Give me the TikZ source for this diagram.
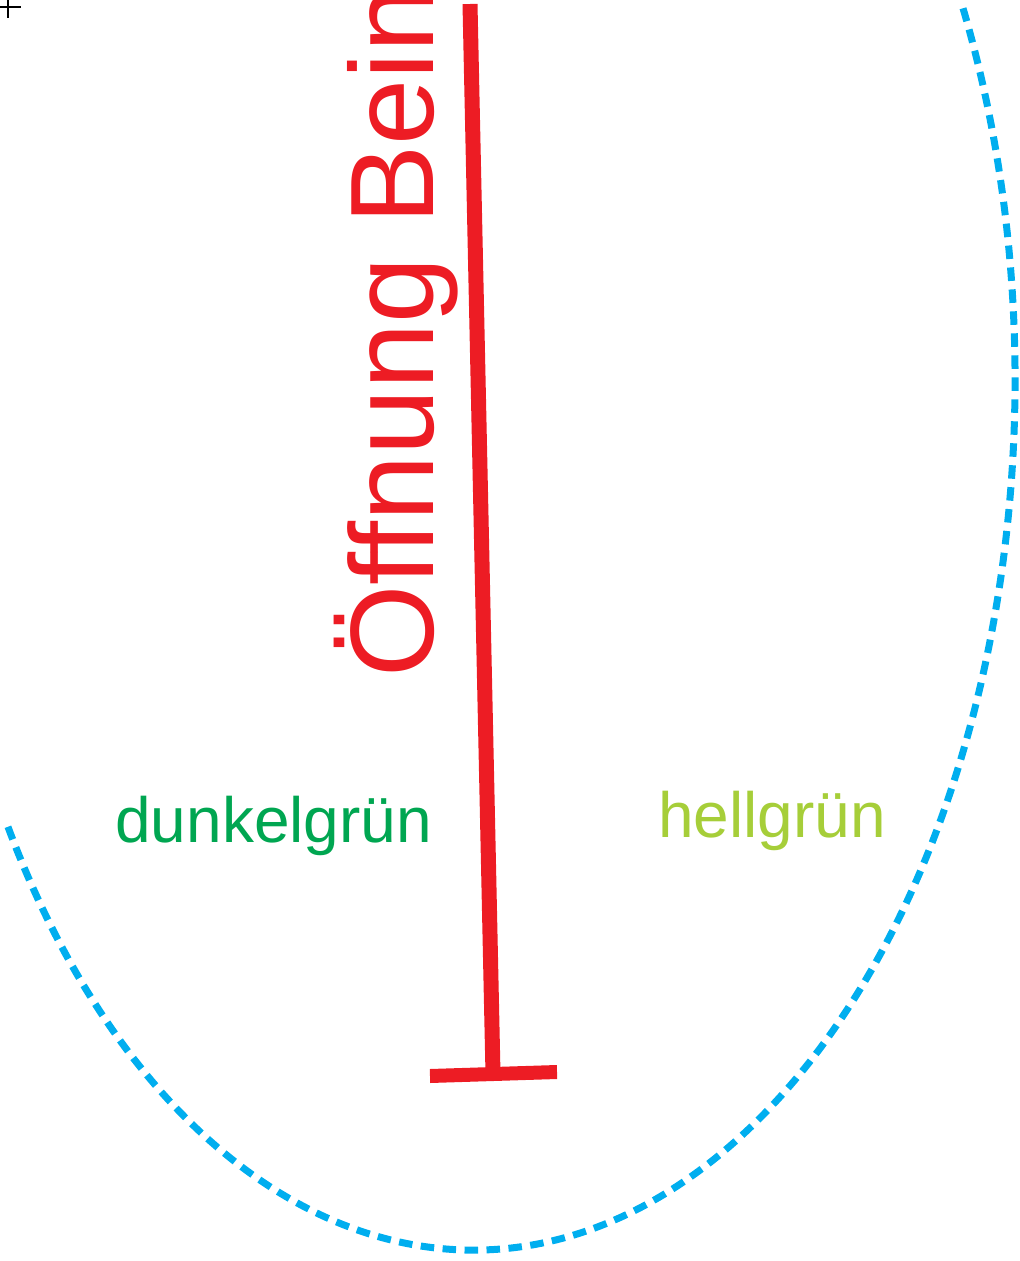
\documentclass[tikz,border=0pt]{standalone}
\usepackage{fontspec}
\setmainfont{Liberation Sans}
\usepackage{xcolor}
\definecolor{rot}{HTML}{ED1C24}
\definecolor{cyan}{HTML}{00AEEF}
\definecolor{dgruen}{HTML}{00A651}
\definecolor{hgruen}{HTML}{A6CE39}
\tikzset{
  bar/.style={draw=rot, line width=0.3cm},
  rim/.style={draw=cyan, line width=0.14cm, dash pattern=on 0.27cm off 0.17cm},
  colour label/.style={inner sep=0pt, anchor=base west,
                       font=\fontsize{36.4pt}{40pt}\selectfont}
}
\begin{document}
\begin{tikzpicture}[x=0.02cm,y=0.02cm]
  \useasboundingbox (0,0) rectangle (1019,-1261);
  \clip (0,0) rectangle (1019,-1261);
  % Kreuz oben links
  \draw[black, line width=0.6pt] (0,-7) -- (21,-7) (8,0) -- (8,-18);
  % Rand (gestrichelt)
  \draw[rim] (473,-380) ++(210.9:542 and 870)
    arc[start angle=210.9, end angle=385.3, x radius=542, y radius=870];
  % Messlinie
  \coordinate (top) at (470,-4);
  \coordinate (foot) at (493,-1074);
  \coordinate (footL) at (430,-1076);
  \coordinate (footR) at (557,-1072);
  \draw[bar] (top) -- (foot);
  \draw[bar, line width=0.28cm] (footL) -- (footR);
  \node[text=rot, inner sep=0pt, anchor=base west, rotate=90,
        font=\fontsize{67.6pt}{70pt}\selectfont] (oeffnung) at (433,-678) {Öffnung Bein};
  % Farben
  \node[colour label, text=dgruen] (dunkel) at (115,-842) {dunkelgrün};
  \node[colour label, text=hgruen] (hell) at (658,-837) {hellgrün};
\end{tikzpicture}
\end{document}
